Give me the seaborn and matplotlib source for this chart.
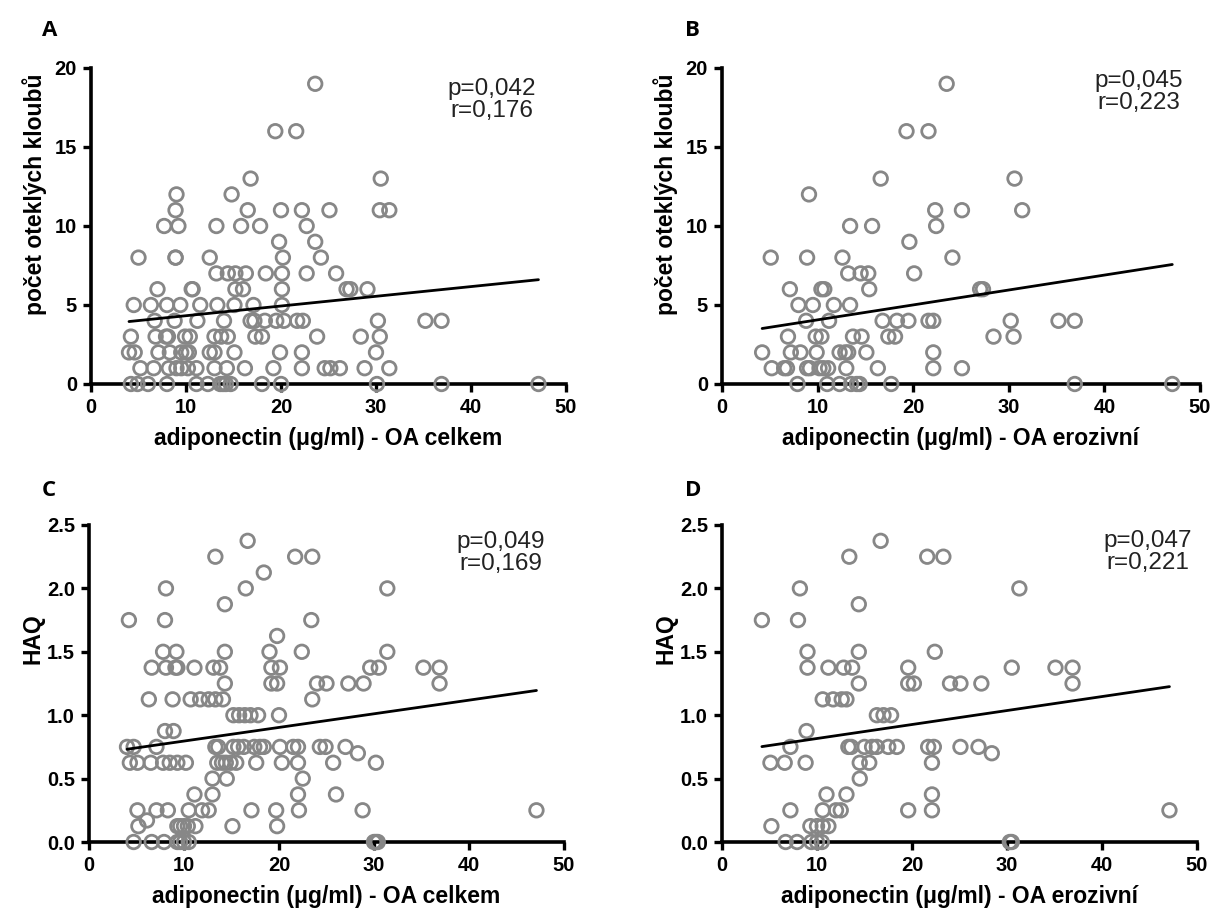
import numpy as np
import pandas as pd
import matplotlib
matplotlib.use('Agg')
import matplotlib.pyplot as plt
import seaborn as sns

# panel A: swollen joints vs adiponectin, all OA
a_x = [23.6,
       19.4, 21.6,
       16.8, 30.5,
       9.0, 14.8,
       8.9, 16.5, 20.0, 22.2, 25.1, 30.4, 31.4,
       7.7, 9.2, 13.2, 15.8, 17.8, 22.7,
       19.8, 23.6,
       5.0, 8.9, 8.9, 12.5, 20.2, 24.2,
       13.2, 14.4, 15.2, 16.3, 18.4, 20.1, 22.7, 25.8,
       7.0, 10.6, 10.7, 15.2, 16.0, 20.1, 26.9, 27.3, 29.1,
       4.5, 6.3, 8.0, 9.4, 11.5, 13.3, 15.1, 17.1, 20.1,
       6.7, 8.8, 11.2, 14.0, 16.8, 17.2, 18.3, 19.5, 20.3, 21.7, 22.3, 30.2, 35.2, 36.9,
       4.2, 6.8, 7.9, 8.1, 9.9, 10.4, 13.0, 13.7, 14.4, 17.3, 18.0, 23.8, 28.4, 30.4,
       4.0, 4.6, 7.1, 8.3, 9.5, 10.0, 10.3, 12.5, 13.0, 15.1, 19.9, 22.2, 30.0,
       5.2, 6.6, 8.2, 9.0, 9.5, 10.2, 11.1, 13.0, 14.3, 16.2, 19.2, 22.2, 24.6, 25.2, 26.2, 28.8, 31.4,
       4.2, 4.9, 6.0, 8.0, 11.1, 12.3, 13.6, 13.9, 14.2, 14.7, 18.0, 20.0, 30.1, 36.9, 47.1]
a_y = [19,
       16, 16,
       13, 13,
       12, 12,
       11, 11, 11, 11, 11, 11, 11,
       10, 10, 10, 10, 10, 10,
       9, 9,
       8, 8, 8, 8, 8, 8,
       7, 7, 7, 7, 7, 7, 7, 7,
       6, 6, 6, 6, 6, 6, 6, 6, 6,
       5, 5, 5, 5, 5, 5, 5, 5, 5,
       4, 4, 4, 4, 4, 4, 4, 4, 4, 4, 4, 4, 4, 4,
       3, 3, 3, 3, 3, 3, 3, 3, 3, 3, 3, 3, 3, 3,
       2, 2, 2, 2, 2, 2, 2, 2, 2, 2, 2, 2, 2,
       1, 1, 1, 1, 1, 1, 1, 1, 1, 1, 1, 1, 1, 1, 1, 1, 1,
       0, 0, 0, 0, 0, 0, 0, 0, 0, 0, 0, 0, 0, 0, 0]

# panel B: swollen joints vs adiponectin, erosive OA
b_x = [23.5,
       19.3, 21.6,
       16.6, 30.6,
       9.1,
       22.3, 25.1, 31.4,
       13.4, 15.7, 22.4,
       19.6,
       5.1, 8.9, 12.6, 24.1,
       13.2, 14.5, 15.3, 20.1,
       7.1, 10.4, 10.7, 15.4, 27.0, 27.3,
       8.0, 9.5, 11.7, 13.4,
       8.8, 11.2, 16.8, 18.3, 19.5, 21.6, 22.1, 30.2, 35.2, 36.9,
       6.9, 9.8, 10.4, 13.7, 14.6, 17.4, 18.1, 28.4, 30.5,
       4.2, 7.2, 8.2, 9.9, 12.3, 12.9, 13.2, 15.1, 22.1,
       5.2, 6.5, 6.8, 8.9, 9.2, 10.2, 10.6, 11.1, 13.0, 16.3, 22.1, 25.1,
       7.9, 11.0, 12.3, 13.5, 14.1, 14.4, 17.7, 36.9, 47.1]
b_y = [19,
       16, 16,
       13, 13,
       12,
       11, 11, 11,
       10, 10, 10,
       9,
       8, 8, 8, 8,
       7, 7, 7, 7,
       6, 6, 6, 6, 6, 6,
       5, 5, 5, 5,
       4, 4, 4, 4, 4, 4, 4, 4, 4, 4,
       3, 3, 3, 3, 3, 3, 3, 3, 3,
       2, 2, 2, 2, 2, 2, 2, 2, 2,
       1, 1, 1, 1, 1, 1, 1, 1, 1, 1, 1, 1,
       0, 0, 0, 0, 0, 0, 0, 0, 0]

# panel C: HAQ vs adiponectin, all OA
c_x = [16.7,
       13.3, 21.7, 23.5,
       18.4,
       8.1, 16.5, 31.4,
       14.3,
       4.2, 8.0, 23.4,
       19.8,
       7.8, 9.2, 14.3, 19.0, 22.4, 31.4,
       6.6, 8.1, 9.1, 9.3, 11.1, 13.1, 13.8, 19.2, 20.1, 29.6, 30.5, 35.2, 36.9,
       14.3, 19.2, 19.8, 24.0, 25.0, 27.3, 28.9, 36.9,
       6.3, 8.8, 10.7, 11.7, 12.6, 13.3, 14.1, 23.5,
       15.2, 15.8, 16.4, 17.0, 17.8, 20.0,
       8.0, 8.9,
       4.0, 4.7, 7.1, 13.3, 13.6, 15.2, 15.7, 16.3, 17.4, 18.0, 18.4, 20.1, 21.5, 22.0, 24.3, 24.9, 27.0,
       28.3,
       4.3, 5.1, 6.5, 7.8, 8.5, 9.3, 10.2, 13.5, 14.0, 14.4, 14.9, 15.5, 17.6, 20.3, 22.0, 25.7, 30.2,
       13.0, 14.5, 22.5,
       11.1, 13.0, 22.0, 26.0,
       5.1, 7.1, 8.3, 10.5, 11.9, 12.6, 17.1, 19.7, 22.1, 28.8, 47.1,
       6.1,
       5.2, 9.3, 9.6, 10.0, 10.4, 11.2, 15.1, 19.8,
       4.7, 6.6, 7.9, 9.3, 9.6, 10.0, 10.5, 30.0, 30.2, 30.4]
c_y = [2.375,
       2.25, 2.25, 2.25,
       2.125,
       2.0, 2.0, 2.0,
       1.875,
       1.75, 1.75, 1.75,
       1.625,
       1.5, 1.5, 1.5, 1.5, 1.5, 1.5,
       1.375, 1.375, 1.375, 1.375, 1.375, 1.375, 1.375, 1.375, 1.375, 1.375, 1.375, 1.375, 1.375,
       1.25, 1.25, 1.25, 1.25, 1.25, 1.25, 1.25, 1.25,
       1.125, 1.125, 1.125, 1.125, 1.125, 1.125, 1.125, 1.125,
       1.0, 1.0, 1.0, 1.0, 1.0, 1.0,
       0.875, 0.875,
       0.75, 0.75, 0.75, 0.75, 0.75, 0.75, 0.75, 0.75, 0.75, 0.75, 0.75, 0.75, 0.75, 0.75, 0.75, 0.75, 0.75,
       0.7,
       0.625, 0.625, 0.625, 0.625, 0.625, 0.625, 0.625, 0.625, 0.625, 0.625, 0.625, 0.625, 0.625, 0.625, 0.625, 0.625, 0.625,
       0.5, 0.5, 0.5,
       0.375, 0.375, 0.375, 0.375,
       0.25, 0.25, 0.25, 0.25, 0.25, 0.25, 0.25, 0.25, 0.25, 0.25, 0.25,
       0.17,
       0.125, 0.125, 0.125, 0.125, 0.125, 0.125, 0.125, 0.125,
       0.0, 0.0, 0.0, 0.0, 0.0, 0.0, 0.0, 0.0, 0.0, 0.0]

# panel D: HAQ vs adiponectin, erosive OA
d_x = [16.7,
       13.4, 21.6, 23.3,
       8.2, 31.3,
       14.4,
       4.2, 8.0,
       9.0, 14.4, 22.4,
       9.0, 11.2, 12.8, 13.7, 19.6, 30.5, 35.1, 36.9,
       14.4, 19.6, 20.2, 24.0, 25.1, 27.3, 36.9,
       10.6, 11.7, 12.6, 13.1,
       16.3, 17.0, 17.8,
       8.9,
       7.2, 13.3, 13.6, 15.0, 15.8, 16.3, 17.5, 18.4, 21.7, 22.3, 25.1, 27.0,
       28.4,
       5.1, 6.6, 8.8, 14.5, 15.5, 22.1,
       14.5,
       11.0, 13.1, 22.1,
       7.2, 10.6, 12.0, 12.5, 19.6, 22.1, 47.1,
       5.2, 9.3, 10.0, 10.6, 11.2,
       6.7, 7.9, 9.4, 10.0, 10.5, 30.3, 30.5]
d_y = [2.375,
       2.25, 2.25, 2.25,
       2.0, 2.0,
       1.875,
       1.75, 1.75,
       1.5, 1.5, 1.5,
       1.375, 1.375, 1.375, 1.375, 1.375, 1.375, 1.375, 1.375,
       1.25, 1.25, 1.25, 1.25, 1.25, 1.25, 1.25,
       1.125, 1.125, 1.125, 1.125,
       1.0, 1.0, 1.0,
       0.875,
       0.75, 0.75, 0.75, 0.75, 0.75, 0.75, 0.75, 0.75, 0.75, 0.75, 0.75, 0.75,
       0.7,
       0.625, 0.625, 0.625, 0.625, 0.625, 0.625,
       0.5,
       0.375, 0.375, 0.375,
       0.25, 0.25, 0.25, 0.25, 0.25, 0.25, 0.25,
       0.125, 0.125, 0.125, 0.125, 0.125,
       0.0, 0.0, 0.0, 0.0, 0.0, 0.0, 0.0]

letters = ['A', 'B', 'C', 'D']
x_labels = ['adiponectin (μg/ml) - OA celkem', 'adiponectin (μg/ml) - OA erozivní',
            'adiponectin (μg/ml) - OA celkem', 'adiponectin (μg/ml) - OA erozivní']
y_labels = ['počet oteklých kloubů', 'počet oteklých kloubů', 'HAQ', 'HAQ']
stats = ['p=0,042\nr=0,176', 'p=0,045\nr=0,223', 'p=0,049\nr=0,169', 'p=0,047\nr=0,221']
x_ticks = [0, 10, 20, 30, 40, 50]
joint_ticks = [0, 5, 10, 15, 20]
haq_ticks = [0.0, 0.5, 1.0, 1.5, 2.0, 2.5]

sns.set_style('ticks')
plt.rcParams['font.family'] = ['Liberation Sans', 'DejaVu Sans']
plt.rcParams['text.color'] = 'black'
plt.rcParams['axes.labelcolor'] = 'black'
plt.rcParams['xtick.color'] = 'black'
plt.rcParams['ytick.color'] = 'black'
plt.rcParams['axes.edgecolor'] = 'black'

W, H = 1214, 917
fig = plt.figure(figsize=(W / 100, H / 100), dpi=100)

# axes boxes in pixels: left, right, top, bottom
boxes = [(91, 566, 68, 384), (722, 1200, 68, 384), (89, 564, 525, 842), (722, 1197, 525, 842)]
stat_pos = [(0.844, 0.90), (0.872, 0.924), (0.867, 0.912), (0.896, 0.915)]
ylab_pos = [0.6, 0.6, 0.64, 0.64]
letter_pos = [(42, 31), (685, 31), (42, 490), (685, 490)]
series = [(a_x, a_y), (b_x, b_y), (c_x, c_y), (d_x, d_y)]

for i in range(4):
    l, r, t, b = boxes[i]
    ax = fig.add_axes([l / W, 1 - b / H, (r - l) / W, (b - t) / H])
    df = pd.DataFrame({'x': series[i][0], 'y': series[i][1]})
    sns.regplot(data=df, x='x', y='y', ax=ax, ci=None, truncate=True,
                scatter_kws=dict(s=95, color='none', edgecolor='#878787', linewidths=2.0,
                                 alpha=1, clip_on=False, zorder=3),
                line_kws=dict(color='black', lw=2.0, zorder=4))
    ax.set_xlim(0, 50)
    ax.set_xticks(x_ticks)
    if i < 2:
        ax.set_ylim(0, 20)
        ax.set_yticks(joint_ticks)
    else:
        ax.set_ylim(0, 2.5)
        ax.set_yticks(haq_ticks)
        ax.set_yticklabels([f'{v:.1f}' for v in haq_ticks])
    sns.despine(ax=ax)
    for s in ['left', 'bottom']:
        ax.spines[s].set_linewidth(2.6)
    ax.tick_params(width=2.4, length=6, direction='out', labelsize=14.5, pad=4)
    for lab in ax.get_xticklabels() + ax.get_yticklabels():
        lab.set_fontweight('bold')
    ax.set_xlabel(x_labels[i], fontsize=16.5, fontweight='bold', labelpad=7)
    ax.set_ylabel(y_labels[i], fontsize=16.5, fontweight='bold')
    ax.yaxis.set_label_coords(-0.093, ylab_pos[i])
    ax.text(stat_pos[i][0], stat_pos[i][1], stats[i], transform=ax.transAxes,
            ha='center', va='center', fontsize=17.5, linespacing=1.0, color='#222222')
    fig.text(letter_pos[i][0] / W, 1 - letter_pos[i][1] / H, letters[i],
             fontsize=16, fontweight='bold', family=['Open Sans', 'DejaVu Sans'], va='center')

fig.savefig('out.png', dpi=100)
